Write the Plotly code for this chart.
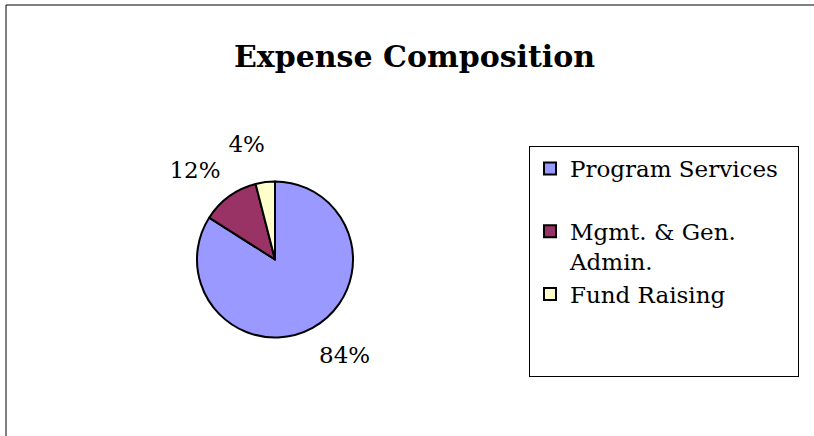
import plotly.graph_objects as go

categories = ["Program Services", "Mgmt. & Gen.<br>Admin.", "Fund Raising"]
legend_labels = ["Program Services\u00a0\u00a0<br> ", "Mgmt. & Gen.<br>Admin.", "Fund Raising<br> <br> "]
values = [84, 12, 4]
colors = ["#9999FF", "#993366", "#FFFFCC"]
title_text = "Expense Composition"

W, H = 814, 436
FONT = "DejaVu Serif"

# pie geometry (px, figure coords from top-left)
CX, CY, R = 275, 259.5, 78
R_TEXT = 93


def dom(r):
    return dict(x=[(CX - r) / W, (CX + r) / W],
                y=[(H - CY - r) / H, (H - CY + r) / H])


fig = go.Figure()
# visible pie
fig.add_trace(go.Pie(
    labels=legend_labels,
    values=values,
    sort=False,
    direction="clockwise",
    rotation=0,
    marker=dict(colors=colors, line=dict(color="black", width=2)),
    textinfo="none",
    domain=dom(R),
    showlegend=True,
    hoverinfo="percent",
))
# transparent pie carrying the outside percentage labels
fig.add_trace(go.Pie(
    labels=legend_labels,
    values=values,
    sort=False,
    direction="clockwise",
    rotation=5,
    marker=dict(colors=["rgba(0,0,0,0)"] * 3, line=dict(width=0, color="rgba(0,0,0,0)")),
    texttemplate="%{percent:.0%}",
    textposition="outside",
    textfont=dict(family=FONT, size=23, color="black"),
    domain=dom(R_TEXT),
    showlegend=False,
    hoverinfo="skip",
))

fig.update_layout(
    width=W, height=H,
    margin=dict(l=0, r=0, t=0, b=0),
    paper_bgcolor="white",
    plot_bgcolor="white",
    title=dict(text="<b>" + title_text + "</b>", x=414.5 / W, xanchor="center",
               y=1 - 56 / H, yanchor="middle",
               font=dict(family=FONT, size=30, color="black")),
    legend=dict(
        x=529 / W, xanchor="left", y=1 - 146 / H, yanchor="top",
        bgcolor="white", bordercolor="black", borderwidth=1,
        font=dict(family=FONT, size=23, color="black"),
        valign="top", traceorder="normal",
    ),
    shapes=[dict(type="rect", xref="paper", yref="paper",
                 x0=6 / W, x1=1.2, y0=-0.2, y1=1 - 5 / H,
                 line=dict(color="black", width=1), fillcolor="rgba(0,0,0,0)")],
)

post = (
    "document.body.style.margin='0';"
    "var s=document.createElement('style');"
    "s.innerHTML='path.textline{display:none !important;}';"
    "document.head.appendChild(s);"
)
fig.write_html("out.html", post_script=post, config={"displayModeBar": False})
